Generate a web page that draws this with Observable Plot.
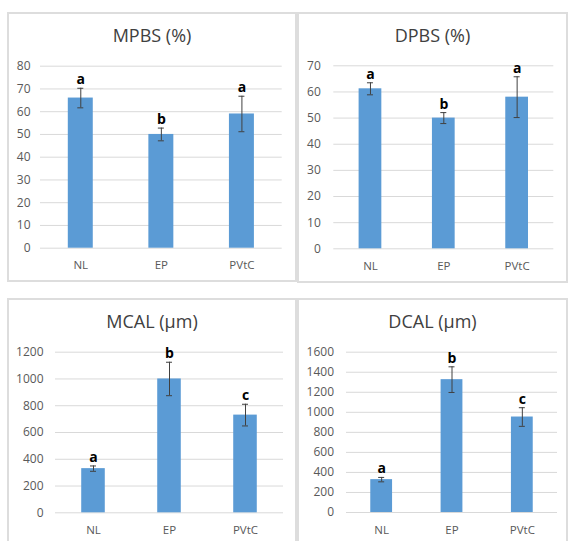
<!DOCTYPE html>
<html><head><meta charset="utf-8">
<script src="https://cdn.jsdelivr.net/npm/d3@7"></script>
<script src="https://cdn.jsdelivr.net/npm/@observablehq/plot@0.6"></script>
<style>
body{margin:0;background:#fff;}
#wrap{position:relative;width:569px;height:541px;overflow:hidden;font-family:"Open Sans",sans-serif;background:#fff;}
.panel{position:absolute;}
.panel svg{position:absolute;left:0;top:0;}
.border{position:absolute;left:0;top:0;right:0;bottom:0;border:2px solid #dddddd;box-sizing:border-box;pointer-events:none;}
.title{position:absolute;left:0;right:0;text-align:center;font-size:18px;line-height:1;color:#404040;}
</style></head>
<body><div id="wrap"></div>
<script>
const categories = ["NL", "EP", "PVtC"];

const mpbsMean = [66, 50, 59];
const mpbsErr = [4.3, 2.8, 7.8];
const mpbsLetters = ["a", "b", "a"];
const mpbsTicks = [0, 10, 20, 30, 40, 50, 60, 70, 80];

const dpbsMean = [61.2, 50, 58];
const dpbsErr = [2.3, 2.1, 7.8];
const dpbsLetters = ["a", "b", "a"];
const dpbsTicks = [0, 10, 20, 30, 40, 50, 60, 70];

const mcalMean = [330, 1000, 730];
const mcalErr = [20, 125, 81];
const mcalLetters = ["a", "b", "c"];
const mcalTicks = [0, 200, 400, 600, 800, 1000, 1200];

const dcalMean = [328, 1326, 953];
const dcalErr = [22, 128, 93];
const dcalLetters = ["a", "b", "c"];
const dcalTicks = [0, 200, 400, 600, 800, 1000, 1200, 1400, 1600];

function table(means, errs, letters) {
  return categories.map((c, i) => ({cat: c, mean: means[i], err: errs[i], letter: letters[i]}));
}

const panels = [
  {title: "MPBS (%)", data: table(mpbsMean, mpbsErr, mpbsLetters), ticks: mpbsTicks,
   left: 7, top: 12, w: 290, h: 270, ml: 33, mr: 15.3, mt: 53.7, mb: 34.3, pad: 10},
  {title: "DPBS (%)", data: table(dpbsMean, dpbsErr, dpbsLetters), ticks: dpbsTicks,
   left: 297, top: 12, w: 271, h: 271, ml: 36.3, mr: 14.7, mt: 53.3, mb: 34.7, pad: 13},
  {title: "MCAL (µm)", data: table(mcalMean, mcalErr, mcalLetters), ticks: mcalTicks,
   left: 7, top: 298, w: 290, h: 260, ml: 48, mr: 14, mt: 53.7, mb: 45.7, pad: 12},
  {title: "DCAL (µm)", data: table(dcalMean, dcalErr, dcalLetters), ticks: dcalTicks,
   left: 297, top: 298, w: 271, h: 260, ml: 49, mr: 11, mt: 53.7, mb: 46, pad: 12.5}
];

const wrap = document.getElementById("wrap");
const padInner = 0.69;

for (const p of panels) {
  const div = document.createElement("div");
  div.className = "panel";
  Object.assign(div.style, {left: p.left + "px", top: p.top + "px", width: p.w + "px", height: p.h + "px"});
  const step = (p.w - p.ml - p.mr) / categories.length;
  const bw = step * (1 - padInner);
  const capInset = (bw - 6) / 2;
  const yMax = p.ticks[p.ticks.length - 1];
  const svg = Plot.plot({
    width: p.w, height: p.h,
    marginLeft: p.ml, marginRight: p.mr, marginTop: p.mt, marginBottom: p.mb,
    style: {color: "#595959", fontFamily: "Open Sans, sans-serif", fontSize: "12px", background: "transparent", overflow: "visible"},
    x: {domain: categories, paddingInner: padInner, paddingOuter: padInner / 2, round: false},
    y: {domain: [0, yMax]},
    marks: [
      Plot.ruleY(p.ticks, {stroke: "#d9d9d9", strokeWidth: 1}),
      Plot.barY(p.data, {x: "cat", y: "mean", fill: "#5b9bd5"}),
      Plot.ruleX(p.data, {x: "cat", y1: d => d.mean - d.err, y2: d => d.mean + d.err, stroke: "#404040", strokeWidth: 1}),
      Plot.tickY(p.data, {x: "cat", y: d => d.mean + d.err, insetLeft: capInset, insetRight: capInset, stroke: "#404040", strokeWidth: 1}),
      Plot.tickY(p.data, {x: "cat", y: d => d.mean - d.err, insetLeft: capInset, insetRight: capInset, stroke: "#404040", strokeWidth: 1}),
      Plot.text(p.data, {x: "cat", y: d => d.mean + d.err, text: "letter", dy: -4, lineAnchor: "bottom", fontWeight: "bold", fontSize: 14, fill: "#000"}),
      Plot.axisY({ticks: p.ticks, tickSize: 0, tickPadding: p.pad, label: null, fontSize: 12, tickFormat: d => String(d)}),
      Plot.axisX({tickSize: 0, tickPadding: 13, label: null, fontSize: 11.5})
    ]
  });
  div.appendChild(svg);
  const t = document.createElement("div");
  t.className = "title";
  t.style.top = "14px";
  t.textContent = p.title;
  div.appendChild(t);
  const b = document.createElement("div");
  b.className = "border";
  div.appendChild(b);
  wrap.appendChild(div);
}
</script>
</body></html>
